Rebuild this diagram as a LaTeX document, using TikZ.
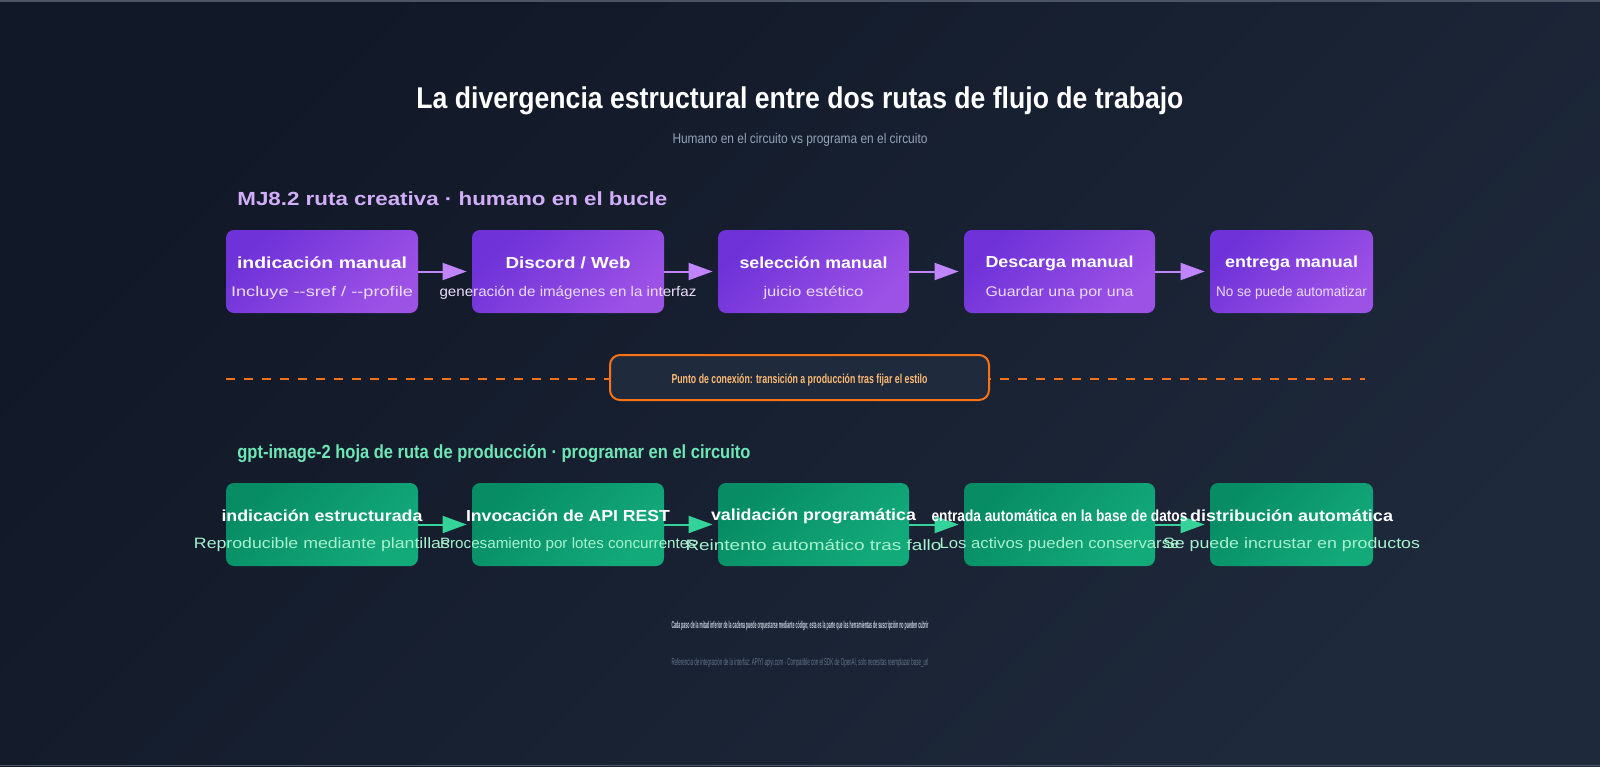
\documentclass[tikz,border=0pt]{standalone}
\usepackage{fontspec}
\setmainfont{Liberation Sans}
\usepackage{graphicx}
\usetikzlibrary{arrows.meta}
\definecolor{bgA}{HTML}{111827}
\definecolor{bgB}{HTML}{1E293B}
\definecolor{subgray}{HTML}{94A3B8}
\definecolor{secpurple}{HTML}{D2AEFA}
\definecolor{secgreen}{HTML}{6EE7B7}
\definecolor{orng}{HTML}{F97316}
\definecolor{orngtext}{HTML}{FDBA74}
\definecolor{connfill}{HTML}{1F2A3C}
\definecolor{purA}{HTML}{6E32D8}
\definecolor{purB}{HTML}{9D52E6}
\definecolor{grnA}{HTML}{078C64}
\definecolor{grnB}{HTML}{13AA7A}
\definecolor{parrowc}{HTML}{C084FC}
\definecolor{garrowc}{HTML}{34D399}
\definecolor{psub}{HTML}{EBDDFF}
\definecolor{gsub}{HTML}{A7F3D0}
\definecolor{foot1}{HTML}{CBD5E1}
\definecolor{foot2}{HTML}{64748B}
\definecolor{frame}{HTML}{4B5563}
\newcommand\fitto[2]{\resizebox{#1}{\height}{#2}}
\begin{document}
\begin{tikzpicture}[x=0.5pt,y=-0.5pt,
  pbox/.style={rounded corners=4pt, draw=none, top color=purA, bottom color=purB, shading angle=45, minimum height=41.5pt, inner sep=0pt},
  gbox/.style={rounded corners=4pt, draw=none, top color=grnA, bottom color=grnB, shading angle=45, minimum height=41.5pt, inner sep=0pt},
  boxttl/.style={inner sep=0pt, text=white, font=\fontsize{8}{9.6}\selectfont\bfseries},
  psubt/.style={inner sep=0pt, text=psub, font=\fontsize{7}{8.4}\selectfont},
  gsubt/.style={inner sep=0pt, text=gsub, font=\fontsize{7.5}{9}\selectfont},
  parrow/.style={draw=parrowc, line width=1pt, -{Triangle[length=12pt,width=8.5pt]}},
  garrow/.style={draw=garrowc, line width=1pt, -{Triangle[length=12pt,width=8.5pt]}},
  plain/.style={inner sep=0pt}
]
\useasboundingbox (0,0) rectangle (1600,766);
\shade[top color=bgA, bottom color=bgB, shading angle=45] (0,0) rectangle (1600,766);
\fill[frame] (0,0) rectangle (1600,1.5);
\fill[frame] (0,764.5) rectangle (1600,766);

% title
\node[plain, text=white, font=\fontsize{15}{18}\selectfont\bfseries] (title) at (800,101) {\fitto{383.5pt}{La divergencia estructural entre dos rutas de flujo de trabajo}};
\node[plain, text=subgray, font=\fontsize{7}{8.4}\selectfont] (subtitle) at (800,140) {\fitto{127.5pt}{Humano en el circuito vs programa en el circuito}};

% section labels
\node[plain, anchor=west, text=secpurple, font=\fontsize{9.5}{11.4}\selectfont\bfseries] (sec1) at (237,199) {\fitto{215pt}{MJ8.2 ruta creativa · humano en el bucle}};
\node[plain, anchor=west, text=secgreen, font=\fontsize{9.5}{11.4}\selectfont\bfseries] (sec2) at (237,454) {\fitto{256.5pt}{gpt-image-2 hoja de ruta de producción · programar en el circuito}};

% top boxes
\node[pbox, minimum width=96pt] (p1) at (322,271.5) {};
\node[pbox, minimum width=96pt] (p2) at (568,271.5) {};
\node[pbox, minimum width=95.5pt] (p3) at (813.5,271.5) {};
\node[pbox, minimum width=95.5pt] (p4) at (1059.5,271.5) {};
\node[pbox, minimum width=81.5pt] (p5) at (1291.5,271.5) {};

\draw[parrow] (p1.east) -- ([xshift=-2.5pt]p2.west);
\draw[parrow] (p2.east) -- ([xshift=-2.5pt]p3.west);
\draw[parrow] (p3.east) -- ([xshift=-2.5pt]p4.west);
\draw[parrow] (p4.east) -- ([xshift=-2.5pt]p5.west);

\node[boxttl] (p1t) at (322,263) {\fitto{85pt}{indicación manual}};
\node[boxttl] (p2t) at (568,263) {\fitto{62.5pt}{Discord / Web}};
\node[boxttl] (p3t) at (813.5,263) {\fitto{74pt}{selección manual}};
\node[boxttl] (p4t) at (1059.5,263) {\fitto{74pt}{Descarga manual}};
\node[boxttl] (p5t) at (1291.5,263) {\fitto{66.5pt}{entrega manual}};

\node[psubt] (p1s) at (322,293) {\fitto{91pt}{Incluye -{}-sref / -{}-profile}};
\node[psubt] (p2s) at (568,293) {\fitto{128.5pt}{generación de imágenes en la interfaz}};
\node[psubt] (p3s) at (813.5,293) {\fitto{50pt}{juicio estético}};
\node[psubt] (p4s) at (1059.5,293) {\fitto{74pt}{Guardar una por una}};
\node[psubt] (p5s) at (1291.5,293) {\fitto{75.5pt}{No se puede automatizar}};

% connection
\coordinate (dl) at (226,378.5);
\coordinate (dr) at (1365,378.5);
\draw[orng, line width=1pt, dash pattern=on 4.5pt off 4.5pt] (dl) -- (dr);
\node[draw=orng, line width=1pt, fill=connfill, rounded corners=5pt, minimum width=189.5pt, minimum height=22.5pt, inner sep=0pt] (conn) at (799.5,377.5) {};
\node[plain, text=orngtext, font=\fontsize{6.5}{7.8}\selectfont\bfseries] (connt) at ([yshift=-1.5pt]conn.center) {\fitto{128pt}{Punto de conexión: transición a producción tras fijar el estilo}};

% bottom boxes
\node[gbox, minimum width=96pt] (g1) at (322,524.5) {};
\node[gbox, minimum width=96pt] (g2) at (568,524.5) {};
\node[gbox, minimum width=95.5pt] (g3) at (813.5,524.5) {};
\node[gbox, minimum width=95.5pt] (g4) at (1059.5,524.5) {};
\node[gbox, minimum width=81.5pt] (g5) at (1291.5,524.5) {};

\draw[garrow] (g1.east) -- ([xshift=-2.5pt]g2.west);
\draw[garrow] (g2.east) -- ([xshift=-2.5pt]g3.west);
\draw[garrow] (g3.east) -- ([xshift=-2.5pt]g4.west);
\draw[garrow] (g4.east) -- ([xshift=-2.5pt]g5.west);

\node[boxttl] (g1t) at (322,516) {\fitto{100.5pt}{indicación estructurada}};
\node[boxttl] (g2t) at (568,516) {\fitto{102pt}{Invocación de API REST}};
\node[boxttl] (g3t) at (813.5,516) {\fitto{102.5pt}{validación programática}};
\node[boxttl] (g4t) at (1059.5,516) {\fitto{128pt}{entrada automática en la base de datos}};
\node[boxttl] (g5t) at (1291.5,516) {\fitto{101.5pt}{distribución automática}};

\node[gsubt] (g1s) at (322,545) {\fitto{128pt}{Reproducible mediante plantillas}};
\node[gsubt] (g2s) at (568,545) {\fitto{128pt}{Procesamiento por lotes concurrentes}};
\node[gsubt] (g3s) at (813.5,545) {\fitto{128pt}{Reintento automático tras fallo}};
\node[gsubt] (g4s) at (1059.5,545) {\fitto{120pt}{Los activos pueden conservarse}};
\node[gsubt] (g5s) at (1291.5,545) {\fitto{128.5pt}{Se puede incrustar en productos}};

% footnotes
\node[plain, text=foot1, font=\fontsize{5}{6}\selectfont\bfseries] (f1) at (800,626) {\fitto{128.5pt}{Cada paso de la mitad inferior de la cadena puede orquestarse mediante código; esta es la parte que las herramientas de suscripción no pueden cubrir}};
\node[plain, text=foot2, font=\fontsize{5}{6}\selectfont] (f2) at (800,662.5) {\fitto{128.5pt}{Referencia de integración de la interfaz: APIYI apiyi.com · Compatible con el SDK de OpenAI, solo necesitas reemplazar base\_url}};
\end{tikzpicture}
\end{document}
